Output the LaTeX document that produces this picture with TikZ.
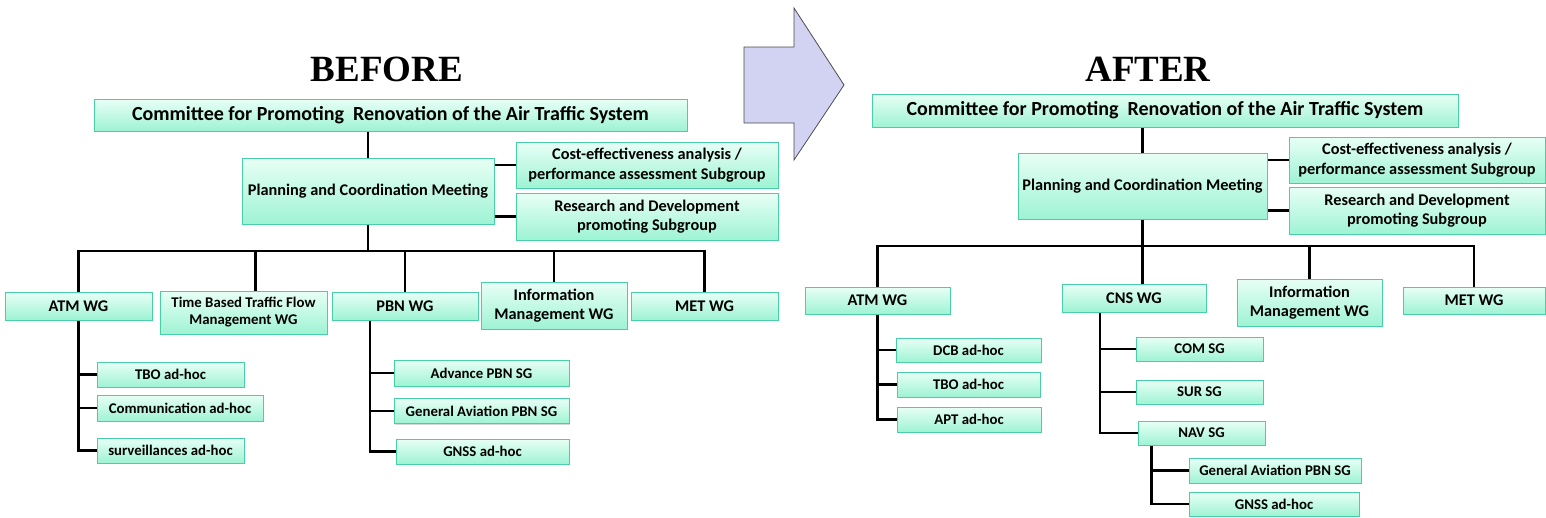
\documentclass[tikz,border=0pt]{standalone}
\usepackage{fontspec}
\setmainfont{Carlito}
\newfontfamily\titlefont{Liberation Serif}
\usetikzlibrary{shadows}
\definecolor{boxtop}{HTML}{E8FFF6}
\definecolor{boxbot}{HTML}{9EF3D4}
\definecolor{boxline}{HTML}{48CFA6}
\definecolor{arrowfill}{HTML}{D2D2F2}
\begin{document}
\begin{tikzpicture}[x=1pt,y=-1pt,
	box/.style={draw=boxline,line width=1pt,top color=boxtop,bottom color=boxbot,
		drop shadow={shadow xshift=1.2pt,shadow yshift=-1.2pt,fill=black!30},
		inner sep=0pt,align=center,font=\fontsize{16.3}{19.5}\selectfont\bfseries},
	sz/.style 2 args={minimum width=#1,minimum height=#2},
	big/.style={font=\fontsize{20}{22}\selectfont\bfseries},
	small/.style={font=\fontsize{14.8}{17}\selectfont\bfseries},
	title/.style={font=\titlefont\bfseries\fontsize{37}{40}\selectfont},
	link/.style={line width=2.2pt}]
\useasboundingbox (0,0) rectangle (1546,517);
\node[title](tbefore)at(387,69){BEFORE};
\node[title](tafter)at(1148,69){AFTER};
\draw[draw=black!70,fill=arrowfill,line width=0.8pt](744,47)--(794,47)--(794,8)--(844,85)--(794,160)--(794,123)--(744,123)--cycle;
\node[box,big,sz={593}{32}](bcom)at(390.5,115){Committee for Promoting\ \ Renovation of the Air Traffic System};
\node[box,sz={252}{66}](bplan)at(368,191){Planning and Coordination Meeting};
\node[box,sz={262}{46}](bcost)at(647,165){Cost-effectiveness analysis /\\performance assessment Subgroup};
\node[box,sz={262}{47}](brd)at(647,216.5){Research and Development\\promoting Subgroup};
\node[box,sz={147}{28}](batm)at(78.5,306){ATM WG};
\node[box,small,sz={167}{43}](btbtf)at(243.5,312.5){Time Based Traffic Flow\\Management WG};
\node[box,sz={146}{28}](bpbn)at(405,306){PBN WG};
\node[box,sz={146}{47}](binfo)at(554,305.5){Information\\Management WG};
\node[box,sz={147}{28}](bmet)at(704.5,306){MET WG};
\node[box,small,sz={147}{25}](btbo)at(170.5,374.5){TBO ad-hoc};
\node[box,small,sz={166}{26}](bcomm)at(180,408){Communication ad-hoc};
\node[box,small,sz={147}{25}](bsurv)at(170.5,450.5){surveillances ad-hoc};
\node[box,small,sz={175}{26}](badv)at(481.5,373){Advance PBN SG};
\node[box,small,sz={175}{25}](bga)at(481.5,411){General Aviation PBN SG};
\node[box,small,sz={173}{25}](bgnss)at(482.5,451.5){GNSS ad-hoc};
\coordinate(bbus)at(368,251);
\coordinate(bpbnst)at([xshift=-35]bpbn.south);
\draw[link](bplan.north)--(bplan.north|-bcom.south);
\draw[link](bplan.east|-bcost.west)--(bcost.west);
\draw[link](bplan.east|-brd.west)--(brd.west);
\draw[link](bplan.south)--(bbus);
\draw[link](batm.north)|-(bbus)-|(bmet.north);
\draw[link]([xshift=12]btbtf.north)--([xshift=12]btbtf.north|-bbus);
\draw[link](bpbn.north)--(bpbn.north|-bbus);
\draw[link](binfo.north)--(binfo.north|-bbus);
\draw[link](batm.south)|-(bsurv.west);
\draw[link](batm.south|-btbo.west)--(btbo.west);
\draw[link](batm.south|-bcomm.west)--(bcomm.west);
\draw[link](bpbnst)|-(bgnss.west);
\draw[link](bpbnst|-badv.west)--(badv.west);
\draw[link](bpbnst|-bga.west)--(bga.west);
\node[box,big,sz={586}{33}](acom)at(1165,110.5){Committee for Promoting\ \ Renovation of the Air Traffic System};
\node[box,sz={249}{66}](aplan)at(1142.5,186){Planning and Coordination Meeting};
\node[box,sz={256}{46}](acost)at(1417,160){Cost-effectiveness analysis /\\performance assessment Subgroup};
\node[box,sz={256}{47}](ard)at(1417,210.5){Research and Development\\promoting Subgroup};
\node[box,sz={145}{27}](aatm)at(877.5,300.5){ATM WG};
\node[box,sz={144}{28}](acns)at(1134,298){CNS WG};
\node[box,sz={145}{47}](ainfo)at(1309.5,302.5){Information\\Management WG};
\node[box,sz={142}{27}](amet)at(1474,300.5){MET WG};
\node[box,small,sz={145}{24}](adcb)at(968.5,350){DCB ad-hoc};
\node[box,small,sz={143}{25}](atbo)at(968.5,384.5){TBO ad-hoc};
\node[box,small,sz={144}{25}](aapt)at(969,419.5){APT ad-hoc};
\node[box,small,sz={127}{24}](acomsg)at(1199.5,349){COM SG};
\node[box,small,sz={127}{24}](asur)at(1199.5,392){SUR SG};
\node[box,small,sz={127}{24}](anav)at(1201.5,433){NAV SG};
\node[box,small,sz={172}{25}](aga)at(1275,470.5){General Aviation PBN SG};
\node[box,small,sz={170}{24}](agnss)at(1274,504){GNSS ad-hoc};
\coordinate(abus)at(1142.5,246);
\coordinate(acnsst)at([xshift=-34]acns.south);
\coordinate(anavst)at([xshift=-50]anav.south);
\draw[link](aplan.north)--(aplan.north|-acom.south);
\draw[link](aplan.east|-acost.west)--(acost.west);
\draw[link](aplan.east|-ard.west)--(ard.west);
\draw[link](aplan.south)--(aplan.south|-acns.north);
\draw[link](aatm.north)|-(abus)-|(amet.north);
\draw[link](ainfo.north)--(ainfo.north|-abus);
\draw[link](aatm.south)|-(aapt.west);
\draw[link](aatm.south|-adcb.west)--(adcb.west);
\draw[link](aatm.south|-atbo.west)--(atbo.west);
\draw[link](acnsst)|-(anav.west);
\draw[link](acnsst|-acomsg.west)--(acomsg.west);
\draw[link](acnsst|-asur.west)--(asur.west);
\draw[link](anavst)|-(agnss.west);
\draw[link](anavst|-aga.west)--(aga.west);
\end{tikzpicture}
\end{document}
